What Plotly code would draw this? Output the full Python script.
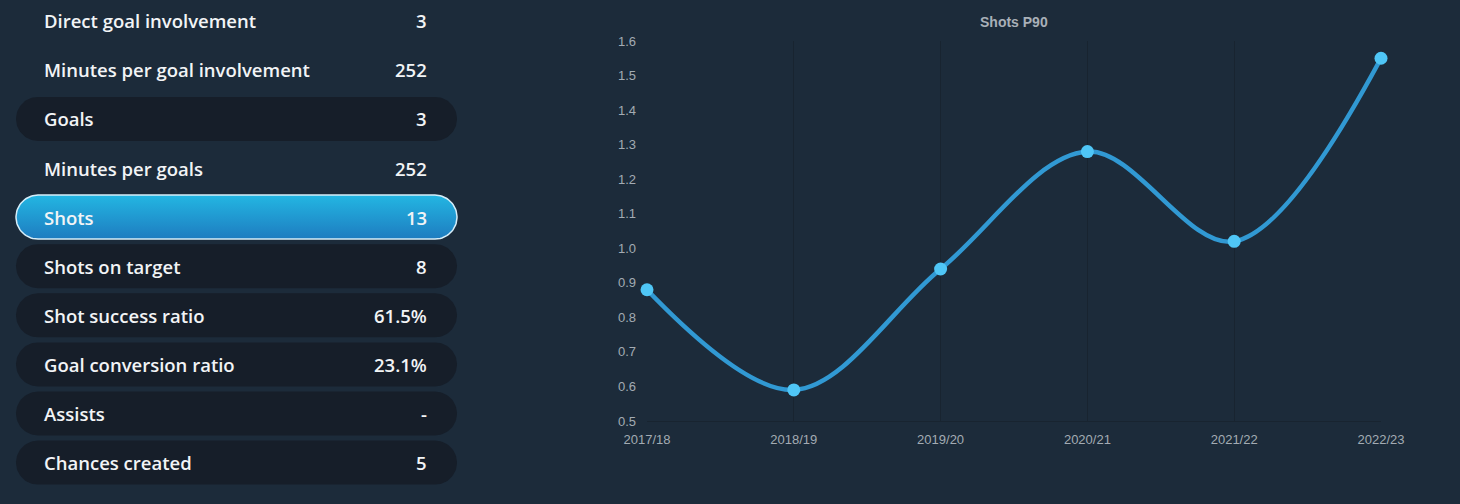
import numpy as np
import plotly.graph_objects as go

# ---------------- data ----------------
stat_labels = ["Direct goal involvement", "Minutes per goal involvement", "Goals",
               "Minutes per goals", "Shots", "Shots on target", "Shot success ratio",
               "Goal conversion ratio", "Assists", "Chances created"]
stat_values = ["3", "252", "3", "252", "13", "8", "61.5%", "23.1%", "-", "5"]
row_style = ["none", "none", "dark", "none", "active", "dark", "dark", "dark", "dark", "dark"]

seasons = ["2017/18", "2018/19", "2019/20", "2020/21", "2021/22", "2022/23"]
shots_p90 = [0.88, 0.59, 0.94, 1.28, 1.02, 1.55]
y_ticks = [0.5, 0.6, 0.7, 0.8, 0.9, 1.0, 1.1, 1.2, 1.3, 1.4, 1.5, 1.6]
chart_title = "Shots P90"

# ---------------- styling ----------------
W, H = 1460, 504
BG = "#1c2b3a"
PILL = "#161e29"
TXT = "#f2f4f6"
TICK = "#a3abb3"
LEFT_FONT = "Open Sans"
LEFT_SIZE = 18.5

fig = go.Figure()

# left panel uses pixel-like hidden axes
PANEL_W = 470
row_y0, row_dy = 20.7, 49.1
pill_x0, pill_x1, pill_h = 16, 457, 44


def stadium(x0, x1, cy, h, n=40):
    r = h / 2
    t1 = np.linspace(-np.pi / 2, np.pi / 2, n)
    t2 = np.linspace(np.pi / 2, 3 * np.pi / 2, n)
    xs = np.concatenate([x1 - r + r * np.cos(t1), x0 + r + r * np.cos(t2)])
    ys = np.concatenate([cy + r * np.sin(t1), cy + r * np.sin(t2)])
    xs = np.append(xs, xs[0])
    ys = np.append(ys, ys[0])
    return xs, ys


annotations = []
for i, (lab, val, sty) in enumerate(zip(stat_labels, stat_values, row_style)):
    cy = row_y0 + row_dy * i
    if sty == "dark":
        xs, ys = stadium(pill_x0, pill_x1, cy, pill_h)
        fig.add_trace(go.Scatter(x=xs, y=ys, xaxis="x2", yaxis="y2", mode="lines",
                                 fill="toself", fillcolor=PILL, line=dict(width=0, color=PILL),
                                 hoverinfo="skip", showlegend=False))
    elif sty == "active":
        xs, ys = stadium(pill_x0, pill_x1, cy, pill_h)
        fig.add_trace(go.Scatter(x=xs, y=ys, xaxis="x2", yaxis="y2", mode="lines",
                                 fill="toself",
                                 fillgradient=dict(type="vertical",
                                                   colorscale=[[0, "#23b6e2"], [1, "#1e7cc0"]],
                                                   start=cy - pill_h / 2, stop=cy + pill_h / 2),
                                 line=dict(width=1.5, color="#d6eef9"),
                                 hoverinfo="skip", showlegend=False))
    annotations.append(dict(x=42, y=cy, xref="x2", yref="y2", text=lab, showarrow=False,
                            xanchor="left", yanchor="middle",
                            font=dict(family=LEFT_FONT, size=LEFT_SIZE, color=TXT, weight=600)))
    annotations.append(dict(x=429, y=cy, xref="x2", yref="y2", text=val, showarrow=False,
                            xanchor="right", yanchor="middle",
                            font=dict(family=LEFT_FONT, size=LEFT_SIZE, color=TXT, weight=600)))

# main chart
fig.add_trace(go.Scatter(x=seasons, y=shots_p90, mode="lines+markers",
                         line=dict(shape="spline", smoothing=1.0, width=4.5, color="#3199d3"),
                         marker=dict(size=13, color="#4fc6f6"),
                         cliponaxis=False, hoverinfo="x+y", showlegend=False))

annotations.append(dict(x=(647 + 1381) / 2 / W, y=1 - 22 / H, xref="paper", yref="paper",
                        text="<b>" + chart_title + "</b>", showarrow=False,
                        xanchor="center", yanchor="middle",
                        font=dict(family="Liberation Sans, Arial", size=14, color="#a9b0b8")))

fig.update_layout(
    width=W, height=H, autosize=False,
    margin=dict(l=0, r=0, t=0, b=0, pad=0, autoexpand=False),
    paper_bgcolor=BG, plot_bgcolor=BG,
    showlegend=False,
    annotations=annotations,
    xaxis=dict(domain=[647 / W, 1381 / W], type="category", range=[0, 5],
               automargin=False,
               showgrid=True, gridcolor="#182430", gridwidth=1,
               showline=True, linecolor="#182430", linewidth=1,
               zeroline=False, ticks="", ticklabelstandoff=6,
               tickfont=dict(family="Liberation Sans, Arial", size=13, color=TICK),
               fixedrange=True),
    yaxis=dict(domain=[1 - 421 / H, 1 - 41 / H], range=[0.5, 1.6],
               automargin=False,
               tickvals=y_ticks, ticktext=[f"{v:.1f}" for v in y_ticks],
               showgrid=False, zeroline=False, showline=False, ticks="",
               ticklabelstandoff=10,
               tickfont=dict(family="Liberation Sans, Arial", size=13, color=TICK),
               fixedrange=True),
    xaxis2=dict(domain=[0, PANEL_W / W], range=[0, PANEL_W], visible=False,
                automargin=False, fixedrange=True),
    yaxis2=dict(domain=[0, 1], range=[H, 0], visible=False,
                automargin=False, fixedrange=True),
)

fig.write_html("out.html", config={"displayModeBar": False},
               post_script="document.body.style.margin='0';"
                           "document.body.style.overflow='hidden';"
                           "document.body.style.background='" + BG + "';")
